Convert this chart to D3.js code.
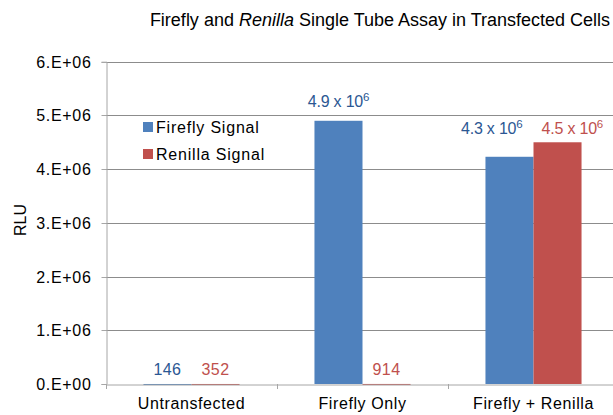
<!DOCTYPE html>
<html>
<head>
<meta charset="utf-8">
<script src="https://cdn.jsdelivr.net/npm/d3@7"></script>
<style>
  body { margin: 0; background: #fff; }
  svg text { font-family: "Liberation Sans", Arial, sans-serif; }
</style>
</head>
<body>
<svg width="613" height="415"></svg>
<script>
// chart data
var categories = ['Untransfected', 'Firefly Only', 'Firefly + Renilla'];
var seriesNames = ['Firefly Signal', 'Renilla Signal'];
var fireflyValues = [146, 4.9e6, 4.23e6];
var renillaValues = [352, 914, 4.5e6];
var fireflyLabels = ['146', '4.9 x 10^6', '4.3 x 10^6'];
var renillaLabels = ['352', '914', '4.5 x 10^6'];
var yTicks = [0, 1e6, 2e6, 3e6, 4e6, 5e6, 6e6];

var barColors = ['#4F81BD', '#C0504D'];
var labelColors = ['#2B5793', '#C0504D'];

var svg = d3.select('svg');

// plot area (right side runs past the window like the original)
var padding = {t: 61.7, l: 106, b: 384};
var plotRight = 619;

var x = d3.scaleBand()
    .domain(categories)
    .range([padding.l, plotRight])
    .paddingInner(0)
    .paddingOuter(0);

var x1 = d3.scaleBand()
    .domain(seriesNames)
    .range([0, x.bandwidth()])
    .paddingOuter(0.78)
    .paddingInner(0);

var y = d3.scaleLinear()
    .domain([0, 6e6])
    .range([padding.b, padding.t]);

// gridlines
svg.append('g')
    .selectAll('line')
    .data(yTicks.slice(1))
    .enter()
    .append('line')
    .attr('x1', padding.l)
    .attr('x2', plotRight)
    .attr('y1', function(d) { return Math.round(y(d)) + 0.5; })
    .attr('y2', function(d) { return Math.round(y(d)) + 0.5; })
    .attr('stroke', '#8c8c8c')
    .attr('stroke-width', 1);

// y axis
var yAxis = d3.axisLeft(y)
    .tickValues(yTicks)
    .tickSize(5)
    .tickPadding(10)
    .tickFormat(function(d) { return (d / 1e6).toFixed(0) + (d === 0 ? '.E+00' : '.E+06'); });

var yAxisG = svg.append('g')
    .attr('transform', 'translate(' + (padding.l + 0.5) + ',0)')
    .call(yAxis);
yAxisG.selectAll('.tick').attr('transform', function(d) { return 'translate(0,' + (Math.round(y(d)) + 0.5) + ')'; });
yAxisG.select('.domain').attr('stroke', '#a6a6a6');
yAxisG.selectAll('.tick line').attr('stroke', '#a6a6a6');
yAxisG.selectAll('.tick text')
    .attr('fill', '#000')
    .style('font-size', '16px')
    .style('letter-spacing', '0.7px');

// bars
var rows = categories.map(function(c, i) {
    return {cat: c, vals: [fireflyValues[i], renillaValues[i]], labels: [fireflyLabels[i], renillaLabels[i]]};
});

var groups = svg.append('g')
    .selectAll('g')
    .data(rows)
    .enter()
    .append('g')
    .attr('transform', function(d) { return 'translate(' + x(d.cat) + ',0)'; });

groups.selectAll('rect')
    .data(function(d) { return d.vals; })
    .enter()
    .append('rect')
    .attr('x', function(d, i) { return x1(seriesNames[i]); })
    .attr('width', x1.bandwidth())
    .attr('y', function(d) { return y(d); })
    .attr('height', function(d) { return Math.max(y(0) - y(d), 1); })
    .attr('fill', function(d, i) { return barColors[i]; });

// data labels
groups.each(function(row) {
    var g = d3.select(this);
    var bothBig = row.vals[0] > 1e5 && row.vals[1] > 1e5;
    var top = y(d3.max(row.vals));
    var mid = x1(seriesNames[1]);
    row.labels.forEach(function(lbl, i) {
        var ly, lx, anchor = 'middle';
        if (bothBig) {
            // side by side labels pushed apart from the shared bar edge
            ly = top - 8;
            lx = i === 0 ? mid - 11 : mid + 8;
            anchor = i === 0 ? 'end' : 'start';
        } else if (row.vals[i] > 1e5) {
            ly = y(row.vals[i]) - 14;
            lx = x1(seriesNames[i]) + x1.bandwidth() / 2;
        } else {
            ly = y(0) - 9;
            lx = x1(seriesNames[i]) + x1.bandwidth() / 2;
        }
        var parts = lbl.split('^');
        var t = g.append('text')
            .attr('x', lx)
            .attr('y', ly)
            .attr('text-anchor', anchor)
            .attr('fill', labelColors[i])
            .style('font-size', '16px')
            .style('letter-spacing', parts[1] ? '-0.2px' : '0.4px');
        t.append('tspan').text(parts[0]);
        if (parts[1]) {
            t.append('tspan')
                .attr('dy', -6)
                .style('font-size', '11.5px')
                .text(parts[1]);
        }
    });
});

// x axis
var xAxis = d3.axisBottom(x).tickSize(0).tickPadding(13);
var xAxisG = svg.append('g')
    .attr('transform', 'translate(0,' + (Math.round(y(0)) + 0.5) + ')')
    .call(xAxis);
xAxisG.select('.domain').attr('stroke', '#a6a6a6');
xAxisG.selectAll('.tick text')
    .attr('fill', '#000')
    .style('font-size', '16px')
    .style('letter-spacing', '0.6px');

// category divider ticks
svg.append('g')
    .selectAll('line')
    .data(categories)
    .enter()
    .append('line')
    .attr('x1', function(d) { return Math.round(x(d)) + 0.5; })
    .attr('x2', function(d) { return Math.round(x(d)) + 0.5; })
    .attr('y1', Math.round(y(0)))
    .attr('y2', Math.round(y(0)) + 5)
    .attr('stroke', '#a6a6a6');

// y axis title
svg.append('text')
    .attr('transform', 'translate(26,220) rotate(-90)')
    .attr('text-anchor', 'middle')
    .style('font-size', '16px')
    .text('RLU');

// chart title
var title = svg.append('text')
    .attr('x', 380)
    .attr('y', 26)
    .attr('text-anchor', 'middle')
    .style('font-size', '18px');
title.append('tspan').text('Firefly and ');
title.append('tspan').style('font-style', 'italic').text('Renilla');
title.append('tspan').text(' Single Tube Assay in Transfected Cells');

// legend
var legend = svg.append('g')
    .selectAll('g')
    .data(seriesNames)
    .enter()
    .append('g')
    .attr('transform', function(d, i) { return 'translate(143,' + (122 + i * 27) + ')'; });

legend.append('rect')
    .attr('width', 10)
    .attr('height', 10)
    .attr('fill', function(d, i) { return barColors[i]; });

legend.append('text')
    .attr('x', 13)
    .attr('y', 11)
    .style('font-size', '16px')
    .style('letter-spacing', '0.8px')
    .text(function(d) { return d; });
</script>
</body>
</html>
